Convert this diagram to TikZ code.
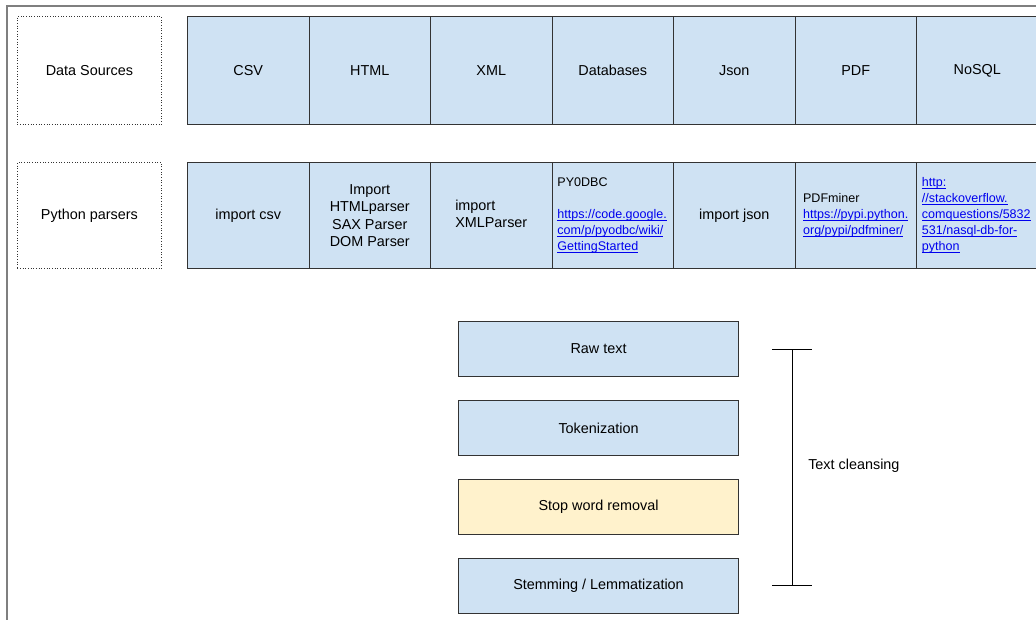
\documentclass[tikz,border=0pt]{standalone}
\usepackage{fontspec}
\setmainfont{Liberation Sans}
\definecolor{cellblue}{HTML}{CFE2F3}
\definecolor{cellyellow}{HTML}{FFF2CC}
\definecolor{edgegray}{HTML}{333333}
\definecolor{framegray}{HTML}{7F7F7F}
\definecolor{linkblue}{HTML}{0000EE}
\newsavebox{\lkbox}
\newcommand{\lk}[1]{\leavevmode{\color{linkblue}\sbox{\lkbox}{#1}\rlap{\rule[-1.4pt]{\wd\lkbox}{0.5pt}}\usebox{\lkbox}}}
\begin{document}
\begin{tikzpicture}[x=0.75pt,y=-0.75pt,
  cell/.style={draw=edgegray, line width=0.8pt, fill=cellblue, minimum width=91.125pt,
    inner sep=0pt, anchor=north west, font=\fontsize{10.8}{13}\selectfont, align=center},
  toprow/.style={cell, minimum height=81pt},
  parrow/.style={cell, minimum height=79.5pt},
  linkcell/.style={parrow, align=left, text width=83pt, inner xsep=4pt, font=\fontsize{9.4}{12}\selectfont},
  labelbox/.style={draw=edgegray, dash pattern=on 0.6pt off 1.4pt, line width=0.6pt, minimum width=108pt, anchor=north west,
    font=\fontsize{10.8}{13}\selectfont},
  stepbox/.style={draw=edgegray, line width=0.8pt, fill=cellblue, minimum width=210pt, minimum height=41.25pt,
    anchor=north west, font=\fontsize{10.8}{13}\selectfont},
  bracket/.style={draw=black, line width=0.6pt}
]
\clip (0,0) rectangle (1036,619);
\fill[white] (0,0) rectangle (1036,619);
% outer frame
\coordinate (fbl) at (7,640);
\coordinate (ftl) at (7,6);
\coordinate (ftr) at (1060,6);
\draw[framegray, line width=1.3pt] (fbl) -- (ftl) -- (ftr);

% label boxes
\node[labelbox, minimum height=81pt] (ds) at (17,16) {Data Sources};
\node[labelbox, minimum height=79.5pt] (pp) at (17,162) {Python parsers};

% top row
\node[toprow] (csv) at (187,16) {CSV};
\node[toprow] (html) at (308.5,16) {HTML};
\node[toprow] (xml) at (430,16) {XML};
\node[toprow] (db) at (551.5,16) {Databases};
\node[toprow] (json) at (673,16) {Json};
\node[toprow] (pdf) at (794.5,16) {PDF};
\node[toprow] (nosql) at (916,16) {NoSQL};

% parser row
\node[parrow] (pcsv) at (187,162) {import csv};
\node[parrow] (phtml) at (308.5,162) {Import\\HTMLparser\\SAX Parser\\DOM Parser};
\node[parrow] (pxml) at (430,162) {\begin{tabular}{@{}l@{}}import\\XMLParser\end{tabular}};
\node[linkcell] (pdb) at (551.5,162) {PY0DBC\\[12pt]\lk{https://code.google.}\\\lk{com/p/pyodbc/wiki/}\\\lk{GettingStarted}};
\node[parrow] (pjson) at (673,162) {import json};
\node[linkcell, inner xsep=6pt, text width=79pt] (ppdf) at (794.5,162) {PDFminer\\\lk{https://pypi.python.}\\\lk{org/pypi/pdfminer/}};
\node[linkcell] (pnosql) at (916,162) {\lk{http:}\\\lk{//stackoverflow.}\\\lk{comquestions/5832}\\\lk{531/nasql-db-for-}\\\lk{python}};

% text cleansing steps
\node[stepbox] (raw) at (458,321) {Raw text};
\node[stepbox] (tok) at (458,400) {Tokenization};
\node[stepbox, fill=cellyellow] (stop) at (458,479) {Stop word removal};
\node[stepbox] (stem) at (458,558) {Stemming / Lemmatization};

% bracket
\coordinate (btl) at (772,349);
\coordinate (btr) at (812,349);
\coordinate (btm) at (792,349);
\coordinate (bbl) at (772,585);
\coordinate (bbr) at (812,585);
\coordinate (bbm) at (792,585);
\draw[bracket] (btl) -- (btr);
\draw[bracket] (bbl) -- (bbr);
\draw[bracket] (btm) -- (bbm);
\node[anchor=west, inner sep=0pt, font=\fontsize{10.8}{13}\selectfont] (tc) at (808,466) {Text cleansing};
\end{tikzpicture}
\end{document}
